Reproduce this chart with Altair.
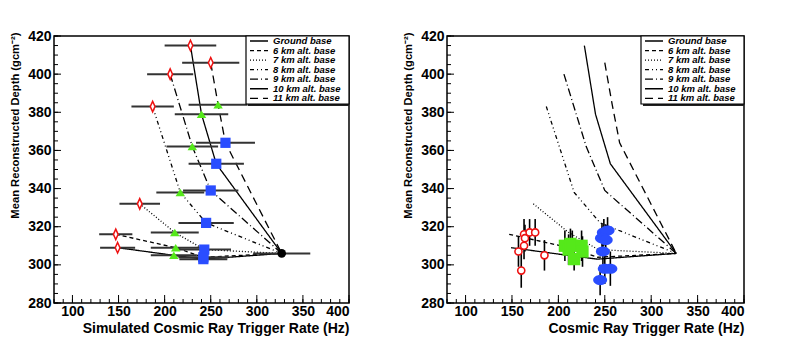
import altair as alt
import pandas as pd

# ---------------- data ----------------
series = ["Ground base", "6 km alt. base", "7 km alt. base", "8 km alt. base",
          "9 km alt. base", "10 km alt. base", "11 km alt. base"]
dashes = [[1, 0], [4, 3], [1, 2], [4, 3, 1, 3, 1, 3], [8, 3, 1, 3], [1, 0], [8, 5]]

# simulated points (left panel); each line runs red -> green -> blue -> common base point
red_rate = [228, 147, 173, 187, 206, 149, 250]
red_depth = [415, 316, 332, 383, 400, 309, 406]
red_err = [28, 18, 22, 23, 25, 19, 31]
green_rate = [240, 212, 211, 217, 230, 210, 258]
green_depth = [379, 309, 317, 338, 362, 305, 384]
green_err = [29, 27, 26, 26, 28, 25, 32]
blue_rate = [256, 242, 243, 245, 250, 242, 266]
blue_depth = [353, 304, 308, 322, 339, 303, 364]
blue_err = [30, 27, 29, 30, 30, 26, 32]
base_rate = [327]
base_depth = [306]
base_err = [31]

# measured points (right panel)
m_red_rate = [157, 160, 163, 164, 163, 169, 175, 185]
m_red_depth = [307, 297, 316, 314, 310, 317, 317, 305]
m_red_err = [8, 9, 8, 7, 7, 7, 7, 8]
m_green_rate = [207, 211, 213, 215, 217, 225, 226]
m_green_depth = [310, 308, 311, 310, 303, 310, 307]
m_green_err = [8, 8, 8, 8, 6, 8, 8]
m_blue_rate = [249, 253, 247, 251, 248, 250, 256, 245]
m_blue_depth = [317, 318, 314, 313, 307, 298, 298, 292]
m_blue_err = [7, 7, 8, 8, 7, 8, 9, 8]
m_rate_err = 3

x_labels = [100, 150, 200, 250, 300, 350, 400]
y_labels = [280, 300, 320, 340, 360, 380, 400, 420]
x_minor = list(range(80, 401, 10))
y_minor = list(range(280, 421, 5))

# ---------------- tables ----------------
rows = []
for i, s in enumerate(series):
    pts = [(red_rate[i], red_depth[i]), (green_rate[i], green_depth[i]),
           (blue_rate[i], blue_depth[i]), (base_rate[0], base_depth[0])]
    for k, (r, d) in enumerate(pts):
        rows.append({"series": s, "step": k, "rate": r, "depth": d})
lines_df = pd.DataFrame(rows)


def pts_df(rate, depth, err):
    return pd.DataFrame({"rate": rate, "depth": depth, "err": err})


red_df = pts_df(red_rate, red_depth, red_err)
green_df = pts_df(green_rate, green_depth, green_err)
blue_df = pts_df(blue_rate, blue_depth, blue_err)
base_df = pts_df(base_rate, base_depth, base_err)
sim_all = pd.concat([red_df, green_df, blue_df, base_df])

mred = pts_df(m_red_rate, m_red_depth, m_red_err)
mgreen = pts_df(m_green_rate, m_green_depth, m_green_err)
mblue = pts_df(m_blue_rate, m_blue_depth, m_blue_err)
meas_all = pd.concat([mred, mgreen, mblue])

legend_df = pd.DataFrame({"series": series, "row": list(range(len(series)))})

xs = alt.Scale(domain=[80, 400], nice=False, zero=False)
ys = alt.Scale(domain=[280, 420], nice=False, zero=False)
dash_scale = alt.Scale(domain=series, range=dashes)

W1, W2, H = 295, 297, 267
FONT = "Liberation Sans"


def x_axis(title):
    return alt.Axis(values=x_labels, title=title, ticks=False, domain=False, grid=False,
                    labelFontSize=14, labelFontWeight="bold", labelPadding=1,
                    titleFontSize=14, titleFontWeight="bold", titleAnchor="end",
                    titlePadding=3, labelColor="black", titleColor="black")


Y_AXIS = alt.Axis(values=y_labels, title="Mean Reconstructed Depth (gcm⁻²)", ticks=False,
                  domain=False, grid=False, labelFontSize=14, labelFontWeight="bold",
                  labelPadding=3, titleFontSize=11.2, titleFontWeight="bold",
                  titleAnchor="end", titleY=-4, titlePadding=7,
                  labelColor="black", titleColor="black")


def make_panel(xtitle, width, point_layers):
    XA = x_axis(xtitle)

    def X(field):
        return alt.X(field, scale=xs, axis=XA)

    def Y(field):
        return alt.Y(field, scale=ys, axis=Y_AXIS)

    lines = alt.Chart(lines_df).mark_line(color="black", strokeWidth=1.3).encode(
        x=X("rate:Q"), y=Y("depth:Q"),
        strokeDash=alt.StrokeDash("series:N", scale=dash_scale, legend=None),
        detail="series:N", order="step:O")

    layers = [lines] + point_layers(X, Y)

    # inward ticks
    layers += [
        alt.Chart(pd.DataFrame({"v": y_labels})).mark_rule(color="black", strokeWidth=1).encode(
            y=Y("v:Q"), x=alt.value(0), x2=alt.value(7)),
        alt.Chart(pd.DataFrame({"v": y_minor})).mark_rule(color="black", strokeWidth=1).encode(
            y=Y("v:Q"), x=alt.value(0), x2=alt.value(4)),
        alt.Chart(pd.DataFrame({"v": x_labels})).mark_rule(color="black", strokeWidth=1).encode(
            x=X("v:Q"), y=alt.value(H), y2=alt.value(H - 8)),
        alt.Chart(pd.DataFrame({"v": x_minor})).mark_rule(color="black", strokeWidth=1).encode(
            x=X("v:Q"), y=alt.value(H), y2=alt.value(H - 4)),
    ]

    # legend box
    x0 = width - 103
    box = alt.Chart(pd.DataFrame({"a": [0]})).mark_rect(
        fill="white", stroke="black", strokeWidth=1.2).encode(
        x=alt.value(x0), x2=alt.value(width), y=alt.value(0), y2=alt.value(68))
    shadow = alt.Chart(pd.DataFrame({"a": [0]})).mark_rule(color="#222", strokeWidth=2).encode(
        x=alt.value(x0 + 2), x2=alt.value(width), y=alt.value(69))
    base = alt.Chart(legend_df).transform_calculate(py="5 + datum.row * 9.55")
    samples = base.mark_rule(color="black", strokeWidth=1.3).encode(
        x=alt.value(x0 + 4), x2=alt.value(x0 + 22),
        y=alt.Y("py:Q", scale=None, axis=None),
        strokeDash=alt.StrokeDash("series:N", scale=dash_scale, legend=None))
    texts = base.mark_text(align="left", baseline="middle", fontSize=9.5, fontWeight="bold",
                           fontStyle="italic", font=FONT, color="black").encode(
        x=alt.value(x0 + 27), y=alt.Y("py:Q", scale=None, axis=None), text="series:N")
    layers += [shadow, box, samples, texts]
    return alt.layer(*layers).properties(width=width, height=H)


RED, GREEN, BLUE = "#ee1111", "#55e81a", "#2a4dff"
diamond = "M0,-1L0.45,0L0,1L-0.45,0Z"
triangle = "M0,-0.75L0.95,0.75L-0.95,0.75Z"
ellipse = "M-1,0A1,0.72,0,1,1,1,0A1,0.72,0,1,1,-1,0Z"


def left_points(X, Y):
    def marks(df, **kw):
        return alt.Chart(df).mark_point(opacity=1, **kw).encode(x=X("rate:Q"), y=Y("depth:Q"))
    bars = alt.Chart(sim_all).transform_calculate(
        lo="datum.rate - datum.err", hi="datum.rate + datum.err").mark_rule(
        color="#333333", strokeWidth=2).encode(x=X("lo:Q"), x2="hi:Q", y=Y("depth:Q"))
    return [
        bars,
        marks(red_df, shape=diamond, size=110, filled=False, color=RED, strokeWidth=1.5,
              fill="white", fillOpacity=1),
        marks(green_df, shape=triangle, size=100, filled=True, color=GREEN),
        marks(blue_df, shape="square", size=105, filled=True, color=BLUE),
        marks(base_df, shape="circle", size=75, filled=True, color="black"),
    ]


def right_points(X, Y):
    def marks(df, **kw):
        return alt.Chart(df).mark_point(opacity=1, **kw).encode(x=X("rate:Q"), y=Y("depth:Q"))
    vbars = alt.Chart(meas_all).transform_calculate(
        lo="datum.depth - datum.err", hi="datum.depth + datum.err").mark_rule(
        color="black", strokeWidth=1.6).encode(x=X("rate:Q"), y=Y("lo:Q"), y2="hi:Q")
    hsmall = alt.Chart(meas_all).transform_calculate(
        lo=f"datum.rate - {m_rate_err}", hi=f"datum.rate + {m_rate_err}").mark_rule(
        color="black", strokeWidth=1.6).encode(x=X("lo:Q"), x2="hi:Q", y=Y("depth:Q"))
    return [
        vbars, hsmall,
        marks(mgreen, shape="square", size=150, filled=True, color=GREEN),
        marks(mblue, shape=ellipse, size=196, filled=True, color=BLUE),
        marks(mred, shape="circle", size=50, filled=False, color=RED, strokeWidth=1.6,
              fill="white", fillOpacity=1),
    ]


left = make_panel("Simulated Cosmic Ray Trigger Rate (Hz)", W1, left_points)
right = make_panel("Cosmic Ray Trigger Rate (Hz)", W2, right_points)

chart = alt.hconcat(left, right, spacing=50).properties(
    padding={"left": 0, "top": 20, "right": 0, "bottom": 0}
).configure(font=FONT).configure_view(stroke="black", strokeWidth=1.5)

chart.save("out.html", embed_options={"renderer": "svg", "actions": False})
